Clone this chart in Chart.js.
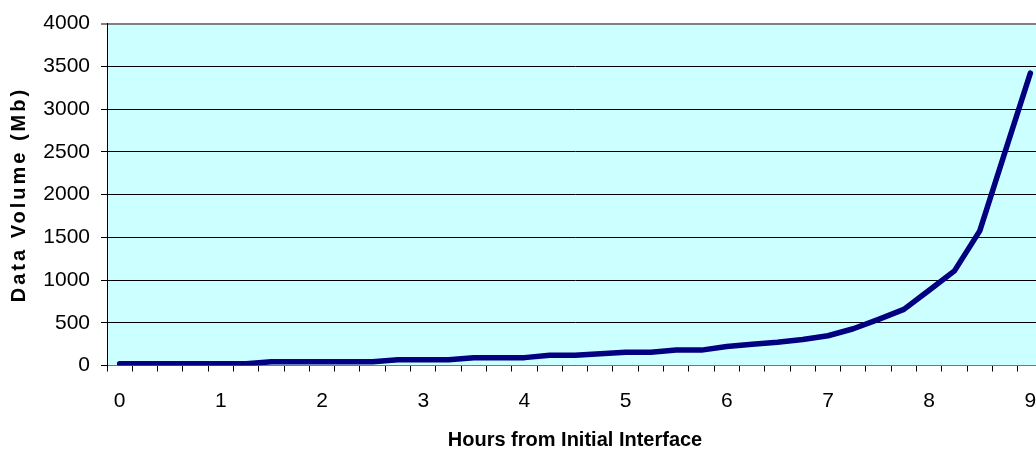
<!DOCTYPE html>
<html>
<head>
<meta charset="utf-8">
<script src="https://cdn.jsdelivr.net/npm/chart.js@4.4.0/dist/chart.umd.min.js"></script>
<style>
  html, body { margin: 0; padding: 0; background: #fff; overflow: hidden; }
  #wrap { width: 1036px; height: 458px; overflow: hidden; }
</style>
</head>
<body>
<div id="wrap"><canvas id="chartVolumen" width="1060" height="458"></canvas></div>
<script>
// hours from initial interface, one point every quarter hour
const hours = [
  0, 0.25, 0.5, 0.75, 1, 1.25, 1.5, 1.75, 2, 2.25, 2.5, 2.75,
  3, 3.25, 3.5, 3.75, 4, 4.25, 4.5, 4.75, 5, 5.25, 5.5, 5.75,
  6, 6.25, 6.5, 6.75, 7, 7.25, 7.5, 7.75, 8, 8.25, 8.5, 8.75, 9
];
// data volume in Mb
const volume = [
  20, 20, 20, 20, 20, 20, 45, 45, 45, 45, 45, 68,
  68, 68, 92, 92, 92, 120, 120, 137, 155, 155, 180, 180,
  222, 248, 272, 305, 348, 430, 540, 657, 880, 1107, 1575, 2500, 3420
];
const yTicks = [0, 500, 1000, 1500, 2000, 2500, 3000, 3500, 4000];

const FONT = "'Liberation Sans', Arial, sans-serif";

// cyan plot background
const plotBg = {
  id: "plotBg",
  beforeDraw(chart) {
    const { ctx, chartArea: a } = chart;
    ctx.save();
    ctx.fillStyle = "#CCFFFF";
    ctx.fillRect(a.left, a.top, a.right - a.left, a.bottom - a.top);
    ctx.restore();
  }
};

// spaced letters on the y axis title
const spacedTitle = {
  id: "spacedTitle",
  afterUpdate(chart) {
    const sc = chart.scales.y;
    if (sc && !sc._spaced) {
      const orig = sc.drawTitle;
      sc.drawTitle = function () {
        const ctx = this.ctx;
        ctx.save();
        ctx.letterSpacing = "3px";
        orig.apply(this, arguments);
        ctx.restore();
      };
      sc._spaced = true;
    }
  }
};

const ctx = document.getElementById("chartVolumen").getContext("2d");

new Chart(ctx, {
  type: "line",
  data: {
    labels: hours,
    datasets: [{
      label: "Data Volume",
      data: volume,
      borderColor: "#000080",
      borderWidth: 5.5,
      borderCapStyle: "round",
      borderJoinStyle: "round",
      pointRadius: 0,
      tension: 0,
      fill: false
    }]
  },
  options: {
    responsive: false,
    animation: false,
    devicePixelRatio: 1,
    layout: { padding: { left: 0, top: 23, right: 17, bottom: 0 } },
    plugins: { legend: { display: false }, tooltip: { enabled: false } },
    scales: {
      x: {
        type: "category",
        offset: true,
        grid: { offset: true, drawOnChartArea: false, drawTicks: true, tickLength: 6, color: "#000" },
        border: { color: "#777", width: 1 },
        ticks: {
          autoSkip: false,
          maxRotation: 0,
          padding: 17,
          color: "#000",
          font: { family: FONT, size: 21 },
          callback(v, i) { return Number.isInteger(hours[i]) ? String(hours[i]) : ""; }
        },
        title: {
          display: true,
          text: "Hours from Initial Interface",
          color: "#000",
          font: { family: FONT, size: 20, weight: "bold" },
          padding: { top: 0, bottom: 6 }
        },
        afterFit(scale) { scale.height = 92.5; }
      },
      y: {
        min: 0,
        max: 4000,
        afterBuildTicks(scale) { scale.ticks = yTicks.map(v => ({ value: v })); },
        grid: {
          drawTicks: true,
          tickLength: 6,
          color: c => (c.tick && c.tick.value === 4000 ? "#808080" : "#000"),
          lineWidth: c => (c.tick && c.tick.value === 4000 ? 2 : 1)
        },
        border: { color: "#000", width: 1 },
        ticks: {
          padding: 11,
          color: "#000",
          font: { family: FONT, size: 21 },
          callback: v => String(v)
        },
        title: {
          display: true,
          text: "Data Volume (Mb)",
          color: "#000",
          font: { family: FONT, size: 20, weight: "bold" },
          padding: { top: 7, bottom: 0 }
        },
        afterFit(scale) { scale.width = 107; }
      }
    }
  },
  plugins: [plotBg, spacedTitle]
});
</script>
</body>
</html>
